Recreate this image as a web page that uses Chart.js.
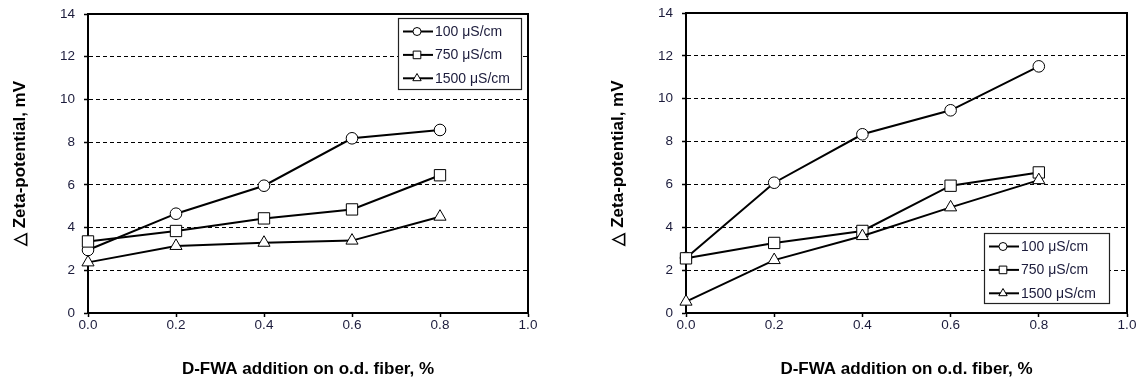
<!DOCTYPE html>
<html><head><meta charset="utf-8">
<script src="https://cdn.jsdelivr.net/npm/chart.js@4/dist/chart.umd.min.js"></script>
<style>
html,body{margin:0;padding:0;background:#fff;width:1140px;height:380px;overflow:hidden}
.wrap{position:absolute;top:0;height:380px}
#w1{left:0;width:570px}
#w2{left:598px;width:542px}
</style></head><body>
<div class="wrap" id="w1"><canvas id="c1" width="570" height="380"></canvas></div>
<div class="wrap" id="w2"><canvas id="c2" width="542" height="380"></canvas></div>
<script>
// ---- data ----
const xValues = [0.0, 0.2, 0.4, 0.6, 0.8];
const seriesLabels = ['100 μS/cm', '750 μS/cm', '1500 μS/cm'];
const leftS100  = [2.95, 4.65, 5.96, 8.18, 8.57];
const leftS750  = [3.35, 3.84, 4.43, 4.85, 6.45];
const leftS1500 = [2.37, 3.14, 3.29, 3.39, 4.51];
const rightS100  = [2.57, 6.08, 8.34, 9.46, 11.51];
const rightS750  = [2.55, 3.27, 3.83, 5.94, 6.56];
const rightS1500 = [0.53, 2.47, 3.59, 4.93, 6.20];
const xTickMin = 0, xTickMax = 1, xTickStep = 0.2;
const yTickMin = 0, yTickMax = 14, yTickStep = 2;
const xTitle = 'D-FWA addition on o.d. fiber, %';
const yTitle = '\u25B3 Zeta-potential, mV';

// ---- styles ----
const FONT = "'Liberation Sans', Arial, sans-serif";
const TXT = '#1c1c3c';
const markerStyles = [
  {pointStyle: 'circle', radius: 5.8, legendRadius: 4, order: 3},
  {pointStyle: 'rect', radius: 8, legendRadius: 5.4, order: 2},
  {pointStyle: 'triangle', radius: 7, legendRadius: 4.8, order: 1}
];

function pts(ys) { return xValues.map((x, i) => ({x: x, y: ys[i]})); }
function makeDatasets(arrs) {
  return arrs.map((ys, i) => ({
    label: seriesLabels[i],
    data: pts(ys),
    order: markerStyles[i].order,
    borderColor: '#000',
    borderWidth: 2,
    pointStyle: markerStyles[i].pointStyle,
    pointRadius: markerStyles[i].radius,
    pointBackgroundColor: '#fff',
    pointBorderColor: '#000',
    pointBorderWidth: 1,
    tension: 0,
    clip: false,
    legendRadius: markerStyles[i].legendRadius
  }));
}

const framePlugin = {
  id: 'frame',
  beforeDatasetsDraw(chart) {
    const a = chart.chartArea, ctx = chart.ctx;
    ctx.save();
    ctx.strokeStyle = '#000';
    ctx.lineWidth = 2;
    ctx.beginPath();
    ctx.moveTo(a.left, a.top);
    ctx.lineTo(a.right, a.top);
    ctx.lineTo(a.right, a.bottom);
    ctx.stroke();
    ctx.restore();
  }
};

const boxLegendPlugin = {
  id: 'boxLegend',
  afterDatasetsDraw(chart, args, opts) {
    const a = chart.chartArea, ctx = chart.ctx;
    const w = opts.w, h = opts.h;
    const left = a.right - opts.dx - w;
    const top = opts.anchor === 'top' ? a.top + opts.dy : a.bottom - opts.dy - h;
    ctx.save();
    ctx.fillStyle = '#fff';
    ctx.fillRect(left, top, w, h);
    ctx.strokeStyle = '#222';
    ctx.lineWidth = 1.2;
    ctx.strokeRect(left + 0.5, top + 0.5, w - 1, h - 1);
    chart.data.datasets.forEach((ds, i) => {
      const cy = top + 13.5 + i * 23.4;
      ctx.strokeStyle = '#000';
      ctx.lineWidth = 2;
      ctx.beginPath();
      ctx.moveTo(left + 5, cy);
      ctx.lineTo(left + 35, cy);
      ctx.stroke();
      ctx.fillStyle = '#fff';
      ctx.strokeStyle = '#000';
      ctx.lineWidth = 1;
      Chart.helpers.drawPoint(ctx, {pointStyle: ds.pointStyle, radius: ds.legendRadius, borderWidth: 1, rotation: 0}, left + 19, cy);
      ctx.fillStyle = TXT;
      ctx.font = "14px " + FONT;
      ctx.textAlign = 'left';
      ctx.textBaseline = 'middle';
      ctx.fillText(ds.label, left + 37, cy + 0.5);
    });
    ctx.restore();
  }
};

function makeChart(id, arrs, padTop, padRight, legendOpts) {
  return new Chart(document.getElementById(id), {
    type: 'line',
    data: {datasets: makeDatasets(arrs)},
    plugins: [framePlugin, boxLegendPlugin],
    options: {
      responsive: false,
      animation: false,
      events: [],
      layout: {padding: {top: padTop, right: padRight, bottom: 0, left: 0}},
      plugins: {
        legend: {display: false},
        tooltip: {enabled: false},
        boxLegend: legendOpts
      },
      scales: {
        x: {
          type: 'linear',
          min: xTickMin, max: xTickMax,
          afterFit(s) { s.height = 67; s.paddingLeft = 0; s.paddingRight = 0; },
          ticks: {
            stepSize: xTickStep,
            color: TXT,
            font: {family: FONT, size: 13.5},
            padding: 0,
            maxRotation: 0,
            callback: v => Number(v).toFixed(1)
          },
          grid: {drawOnChartArea: false, drawTicks: true, tickLength: 4, color: '#000', tickColor: '#000', tickWidth: 1.5},
          border: {display: true, color: '#000', width: 2},
          title: {display: true, text: xTitle, color: '#000', font: {family: FONT, size: 17, weight: 'bold'}, padding: {top: 0, bottom: 0}}
        },
        y: {
          type: 'linear',
          min: yTickMin, max: yTickMax,
          afterFit(s) { s.width = 88; s.paddingTop = 0; s.paddingBottom = 0; },
          ticks: {
            stepSize: yTickStep,
            color: TXT,
            font: {family: FONT, size: 13.5},
            padding: 9
          },
          grid: {
            drawTicks: true, tickLength: 4, lineWidth: 1,
            color: c => (c.tick && c.tick.value > yTickMin && c.tick.value < yTickMax) ? '#000' : 'rgba(0,0,0,0)',
            tickColor: '#000', tickWidth: 1.5, tickBorderDash: []
          },
          border: {display: true, color: '#000', width: 2, dash: [4, 3]},
          title: {display: true, text: yTitle, color: '#000', font: {family: FONT, size: 17, weight: 'bold'}, padding: {top: 10, bottom: 0}}
        }
      }
    }
  });
}

makeChart('c1', [leftS100, leftS750, leftS1500], 14, 42, {anchor: 'top', dx: 6, dy: 4, w: 124, h: 72});
makeChart('c2', [rightS100, rightS750, rightS1500], 13, 13, {anchor: 'bottom', dx: 17, dy: 9, w: 126, h: 71});
</script>
</body></html>
